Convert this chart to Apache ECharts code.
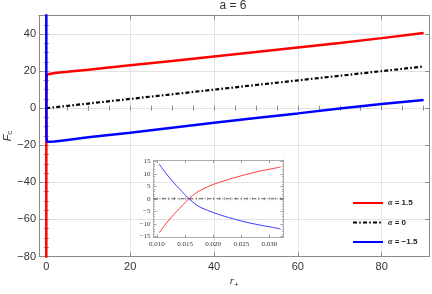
<!DOCTYPE html>
<html><head><meta charset="utf-8">
<script src="https://cdn.jsdelivr.net/npm/echarts@6/dist/echarts.min.js"></script>
<style>html,body{margin:0;padding:0;background:#fff}#c{width:432px;height:294px}</style>
</head><body><div id="c"></div>
<script>
// ---- data ----
const rRed  = [0.003, 0.005, 0.007, 0.0104, 0.0157, 0.02, 0.032, 0.06, 0.15, 0.4, 2, 5, 10, 20, 30, 40, 50, 60, 70, 80, 90];
const fRed  = [-95, -55, -30, -13.6, 0, 5.7, 12.7, 16, 18.2, 18.8, 19.0, 19.6, 20.7, 23.2, 25.5, 27.9, 30.3, 32.8, 35.2, 37.8, 40.6];
const rBlue = [0.003, 0.005, 0.007, 0.0104, 0.0157, 0.02, 0.032, 0.06, 0.15, 0.4, 2, 5, 10, 20, 30, 40, 50, 60, 70, 80, 90];
const fBlue = [95, 55, 30, 13.9, 0, -5.5, -12.1, -16, -18.1, -18.6, -18.0, -17.1, -15.7, -13.2, -10.5, -7.9, -5.3, -2.8, -0.2, 2.2, 4.4];
const rBlack = [0, 10, 20, 30, 40, 50, 60, 70, 80, 90];
const fBlack = [0, 2.5, 5, 7.5, 10, 12.5, 15, 17.5, 20, 22.5];

const insetR     = [0.0104, 0.011, 0.012, 0.013, 0.014, 0.015, 0.0157, 0.017, 0.018, 0.020, 0.022, 0.025, 0.028, 0.030, 0.032];
const insetRed   = [-13.6, -11.8, -8.9, -6.3, -3.9, -1.6, 0, 2.4, 3.7, 5.7, 7.2, 9.2, 10.9, 11.8, 12.7];
const insetBlue  = [13.9, 12.0, 9.1, 6.4, 4.0, 1.6, 0, -2.4, -3.7, -5.5, -7.0, -8.9, -10.4, -11.2, -12.1];
const insetBlackR = [0.0094, 0.0325];
const insetBlack  = [0, 0];

const seriesNames = ['α = 1.5', 'α = 0', 'α = −1.5'];

// ---- tick labels ----
const xMajorTicks = [0, 20, 40, 60, 80];
const xMinorTicks = [0, 5, 10, 15, 20, 25, 30, 35, 40, 45, 50, 55, 60, 65, 70, 75, 80, 85, 90];
const yMajorTicks = [-80, -60, -40, -20, 0, 20, 40];
const yMinorTicks = [-80, -75, -70, -65, -60, -55, -50, -45, -40, -35, -30, -25, -20, -15, -10, -5, 0, 5, 10, 15, 20, 25, 30, 35, 40, 45, 50];
const insetXTicks = [0.010, 0.015, 0.020, 0.025, 0.030];
const insetXMinor = [0.010, 0.011, 0.012, 0.013, 0.014, 0.015, 0.016, 0.017, 0.018, 0.019, 0.020, 0.021, 0.022, 0.023, 0.024, 0.025, 0.026, 0.027, 0.028, 0.029, 0.030, 0.031, 0.032];
const insetYTicks = [-15, -10, -5, 0, 5, 10, 15];
const insetYMinor = [-15, -14, -13, -12, -11, -10, -9, -8, -7, -6, -5, -4, -3, -2, -1, 0, 1, 2, 3, 4, 5, 6, 7, 8, 9, 10, 11, 12, 13, 14, 15];

const zip = (a, b) => a.map((v, i) => [v, b[i]]);
const minus = v => String(v).replace('-', '−');

const FRAME = '#8a8a8a';
const MAIN = {xMin: -1.74, xMax: 91.35, yMin: -80, yMax: 50};
const INS = {xMin: 0.0094, xMax: 0.0325, yMin: -15.5, yMax: 15.5};

function xAx(grid, pos, rng, o) {
  return Object.assign({
    type: 'value', gridIndex: grid, position: pos, min: rng.xMin, max: rng.xMax,
    axisLine: {show: true, onZero: false, lineStyle: {color: FRAME, width: 1}},
    axisTick: {show: false}, axisLabel: {show: false}, splitLine: {show: false}
  }, o);
}
function yAx(grid, pos, rng, o) {
  return Object.assign({
    type: 'value', gridIndex: grid, position: pos, min: rng.yMin, max: rng.yMax,
    axisLine: {show: true, onZero: false, lineStyle: {color: FRAME, width: 1}},
    axisTick: {show: false}, axisLabel: {show: false}, splitLine: {show: false}
  }, o);
}
const tick = (vals, len, col) => ({show: true, inside: true, length: len, customValues: vals, lineStyle: {color: col || FRAME, width: 1}});

const mainLbl = {show: true, color: '#333', fontSize: 11, fontFamily: 'Liberation Sans', formatter: minus};
const insLbl = {show: true, color: '#333', fontSize: 7, fontFamily: 'Liberation Serif'};

const chart = echarts.init(document.getElementById('c'), null, {renderer: 'canvas'});
const G = (l, t, w, h) => ({left: l, top: t, width: w, height: h, containLabel: false, outerBoundsMode: 'none'});
const option = {
  animation: false,
  backgroundColor: '#fff',
  title: {text: 'a = 6', left: 233, top: 0, padding: 0, textAlign: 'center',
    textStyle: {fontSize: 12, fontWeight: 'normal', color: '#333', fontFamily: 'Liberation Sans'}},
  grid: [
    G(39, 15.5, 390.3, 241),
    G(39, 15.5, 390.3, 241),
    G(153.5, 160, 130, 77.5),
    G(153.5, 160, 130, 77.5)
  ],
  xAxis: [
    xAx(0, 'bottom', MAIN, {
      axisTick: tick(xMajorTicks, 4),
      axisLabel: Object.assign({}, mainLbl, {customValues: xMajorTicks, margin: 5}),
      splitLine: {show: true, lineStyle: {color: '#e2e2e2', width: 1}},
      name: '{r|r}{s|+}', nameLocation: 'middle', nameGap: 18, nameMoveOverlap: false,
      nameTextStyle: {rich: {
        r: {fontSize: 11, fontStyle: 'italic', color: '#333', fontFamily: 'Liberation Serif'},
        s: {fontSize: 8, color: '#333', verticalAlign: 'bottom', padding: [6, 0, 0, 0], fontFamily: 'Liberation Sans'}
      }}
    }),
    xAx(0, 'top', MAIN, {axisTick: tick(xMajorTicks, 4)}),
    xAx(1, 'bottom', MAIN, {axisLine: {show: false}, axisTick: tick(xMinorTicks, 2.5)}),
    xAx(1, 'top', MAIN, {axisLine: {show: false}, axisTick: tick(xMinorTicks, 2.5)}),
    xAx(2, 'bottom', INS, {
      axisTick: tick(insetXTicks, 3, '#999'),
      axisLabel: Object.assign({}, insLbl, {customValues: insetXTicks, margin: 3, formatter: v => v.toFixed(3)}),
      axisLine: {show: true, onZero: false, lineStyle: {color: '#aaa', width: 1}}
    }),
    xAx(2, 'top', INS, {axisTick: tick(insetXTicks, 3, '#999'), axisLine: {show: true, onZero: false, lineStyle: {color: '#aaa', width: 1}}}),
    xAx(3, 'bottom', INS, {axisLine: {show: false}, axisTick: tick(insetXMinor, 1.5, '#aaa')}),
    xAx(3, 'top', INS, {axisLine: {show: false}, axisTick: tick(insetXMinor, 1.5, '#aaa')})
  ],
  yAxis: [
    yAx(0, 'left', MAIN, {
      axisTick: tick(yMajorTicks, 4),
      axisLabel: Object.assign({}, mainLbl, {customValues: yMajorTicks, margin: 3}),
      splitLine: {show: true, lineStyle: {color: '#e2e2e2', width: 1}},
      name: '{f|F}{s|c}', nameLocation: 'middle', nameGap: 25, nameRotate: 90, nameMoveOverlap: false,
      nameTextStyle: {rich: {
        f: {fontSize: 11, fontStyle: 'italic', color: '#333', fontFamily: 'Liberation Sans'},
        s: {fontSize: 8, color: '#333', verticalAlign: 'bottom', padding: [5, 0, 0, 0], fontFamily: 'Liberation Sans'}
      }}
    }),
    yAx(0, 'right', MAIN, {axisTick: tick(yMajorTicks, 4)}),
    yAx(1, 'left', MAIN, {axisLine: {show: false}, axisTick: tick(yMinorTicks, 2.5)}),
    yAx(1, 'right', MAIN, {axisLine: {show: false}, axisTick: tick(yMinorTicks, 2.5)}),
    yAx(2, 'left', INS, {
      axisTick: tick(insetYTicks, 3, '#999'),
      axisLabel: Object.assign({}, insLbl, {customValues: insetYTicks, margin: 3, formatter: minus}),
      axisLine: {show: true, onZero: false, lineStyle: {color: '#aaa', width: 1}}
    }),
    yAx(2, 'right', INS, {axisTick: tick(insetYTicks, 3, '#999'), axisLine: {show: true, onZero: false, lineStyle: {color: '#aaa', width: 1}}}),
    yAx(3, 'left', INS, {axisLine: {show: false}, axisTick: tick(insetYMinor, 1.5, '#aaa')}),
    yAx(3, 'right', INS, {axisLine: {show: false}, axisTick: tick(insetYMinor, 1.5, '#aaa')})
  ],
  legend: {
    data: seriesNames, orient: 'vertical', left: 352, top: 197,
    itemWidth: 30, itemHeight: 12, itemGap: 7.5, padding: 0,
    itemStyle: {opacity: 0},
    formatter: n => '{a|α}{b|' + n.slice(1) + '}',
    textStyle: {color: '#222', fontSize: 8, fontWeight: 'bold', fontFamily: 'Liberation Sans', lineHeight: 12,
      rich: {a: {fontStyle: 'italic', fontWeight: 'bold', fontSize: 8, fontFamily: 'Liberation Serif', color: '#222', lineHeight: 12},
             b: {fontWeight: 'bold', fontSize: 8, fontFamily: 'Liberation Sans', color: '#222', lineHeight: 12}}}
  },
  series: [
    {name: seriesNames[0], type: 'line', xAxisIndex: 0, yAxisIndex: 0, data: zip(rRed, fRed),
      showSymbol: false, symbol: 'none', lineStyle: {color: '#ff0000', width: 2.5}, itemStyle: {color: '#ff0000'}, z: 3},
    {name: seriesNames[1], type: 'line', xAxisIndex: 0, yAxisIndex: 0, data: zip(rBlack, fBlack),
      showSymbol: false, symbol: 'none', lineStyle: {color: '#000', width: 2.2, type: [4, 2.2, 1.6, 2.2]}, itemStyle: {color: '#000'}, z: 3},
    {name: seriesNames[2], type: 'line', xAxisIndex: 0, yAxisIndex: 0, data: zip(rBlue, fBlue),
      showSymbol: false, symbol: 'none', lineStyle: {color: '#0000ff', width: 2.5}, itemStyle: {color: '#0000ff'}, z: 3},
    {name: 'inset red', type: 'line', xAxisIndex: 4, yAxisIndex: 4, data: zip(insetR, insetRed), smooth: 0.3,
      showSymbol: false, symbol: 'none', lineStyle: {color: '#ff3a3a', width: 1}, z: 4},
    {name: 'inset black', type: 'line', xAxisIndex: 4, yAxisIndex: 4, data: zip(insetBlackR, insetBlack),
      showSymbol: false, symbol: 'none', lineStyle: {color: '#555', width: 1, type: [4, 2, 1, 2]}, z: 4},
    {name: 'inset blue', type: 'line', xAxisIndex: 4, yAxisIndex: 4, data: zip(insetR, insetBlue), smooth: 0.3,
      showSymbol: false, symbol: 'none', lineStyle: {color: '#3a3aff', width: 1}, z: 4}
  ]
};
chart.setOption(option);
</script>
</body></html>
